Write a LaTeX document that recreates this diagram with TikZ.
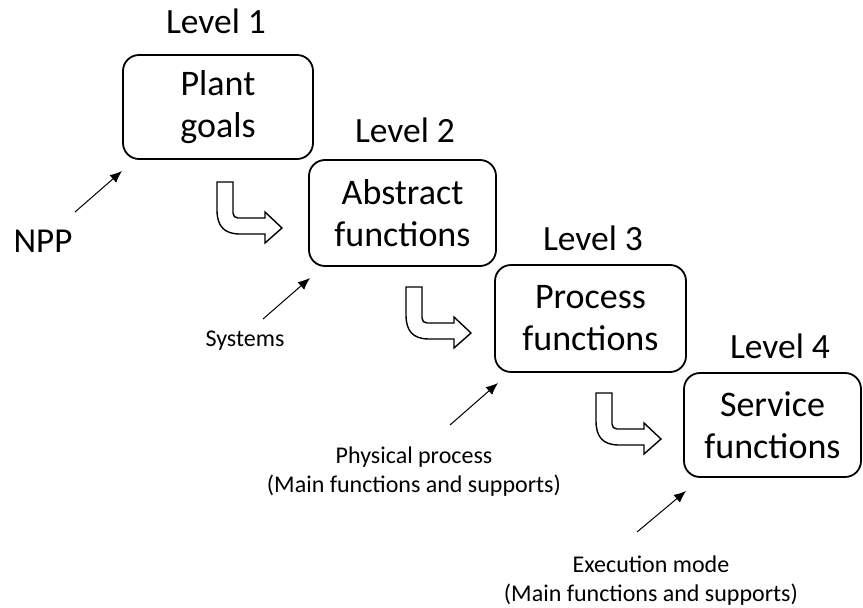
\documentclass[tikz,border=0pt]{standalone}
\usepackage{fontspec}
\setmainfont{Carlito}
\usetikzlibrary{arrows.meta}
\tikzset{
  levelbox/.style={draw=black, line width=1.8pt, rounded corners=16pt, align=center, inner sep=0pt,
    font=\fontsize{36}{42}\selectfont},
  leveltxt/.style={font=\fontsize{35.5}{40}\selectfont, inner sep=0pt},
  smalltxt/.style={font=\fontsize{24}{29}\selectfont, align=center, inner sep=0pt},
  nppttxt/.style={font=\fontsize{35}{40}\selectfont, inner sep=0pt},
  pointer/.style={line width=1pt, -{Latex[length=12pt,width=10pt]}},
  bentarrow/.style={draw=black, line width=1.4pt, fill=white, line join=miter}
}
\begin{document}
\begin{tikzpicture}[x=1pt,y=-1pt]
\useasboundingbox (0,0) rectangle (863,608);

% boxes
\node[levelbox, minimum width=190pt, minimum height=104pt] (b1) at (218,107) {Plant\\goals};
\node[levelbox, minimum width=187pt, minimum height=106pt] (b2) at (402.5,213) {Abstract\\functions};
\node[levelbox, minimum width=191pt, minimum height=107pt] (b3) at (590.5,318.5) {Process\\functions};
\node[levelbox, minimum width=177pt, minimum height=104pt] (b4) at (772.5,425) {Service\\functions};

% level labels
\node[leveltxt] (l1) at (216,21) {Level 1};
\node[leveltxt] (l2) at (405,130) {Level 2};
\node[leveltxt] (l3) at (593,238) {Level 3};
\node[leveltxt] (l4) at (780,346) {Level 4};

% side labels
\node[nppttxt] (npp) at (43,241) {NPP};
\node[smalltxt] (sys) at (245,341) {Systems};
\node[smalltxt] (phys) at (414,472) {Physical process\\(Main functions and supports)};
\node[smalltxt] (exec) at (651,581) {Execution mode\\(Main functions and supports)};

% pointer ends
\coordinate (npptail) at (75,212);
\coordinate (npptip) at (122,171);
\coordinate (systail) at (263,319);
\coordinate (systip) at (310,278);
\coordinate (phystail) at (450,425);
\coordinate (physti) at (498,383);
\coordinate (exectail) at (637,532);
\coordinate (exectip) at (686,491);

\draw[pointer] (npptail) -- (npptip);
\draw[pointer] (systail) -- (systip);
\draw[pointer] (phystail) -- (physti);
\draw[pointer] (exectail) -- (exectip);

% bent arrows
\foreach \dx/\dy in {0/0, 189/105, 379/211} {
  \begin{scope}[shift={(\dx,\dy)}]
    \draw[bentarrow] (217,182) -- (217,210)
      .. controls (217,226) and (224,234) .. (240,234)
      -- (265,234) -- (265,243) -- (282,228) -- (265,212) -- (265,218)
      -- (238,218) .. controls (235,218) and (233,216) .. (233,213)
      -- (233,182) -- cycle;
  \end{scope}
}
\end{tikzpicture}
\end{document}
